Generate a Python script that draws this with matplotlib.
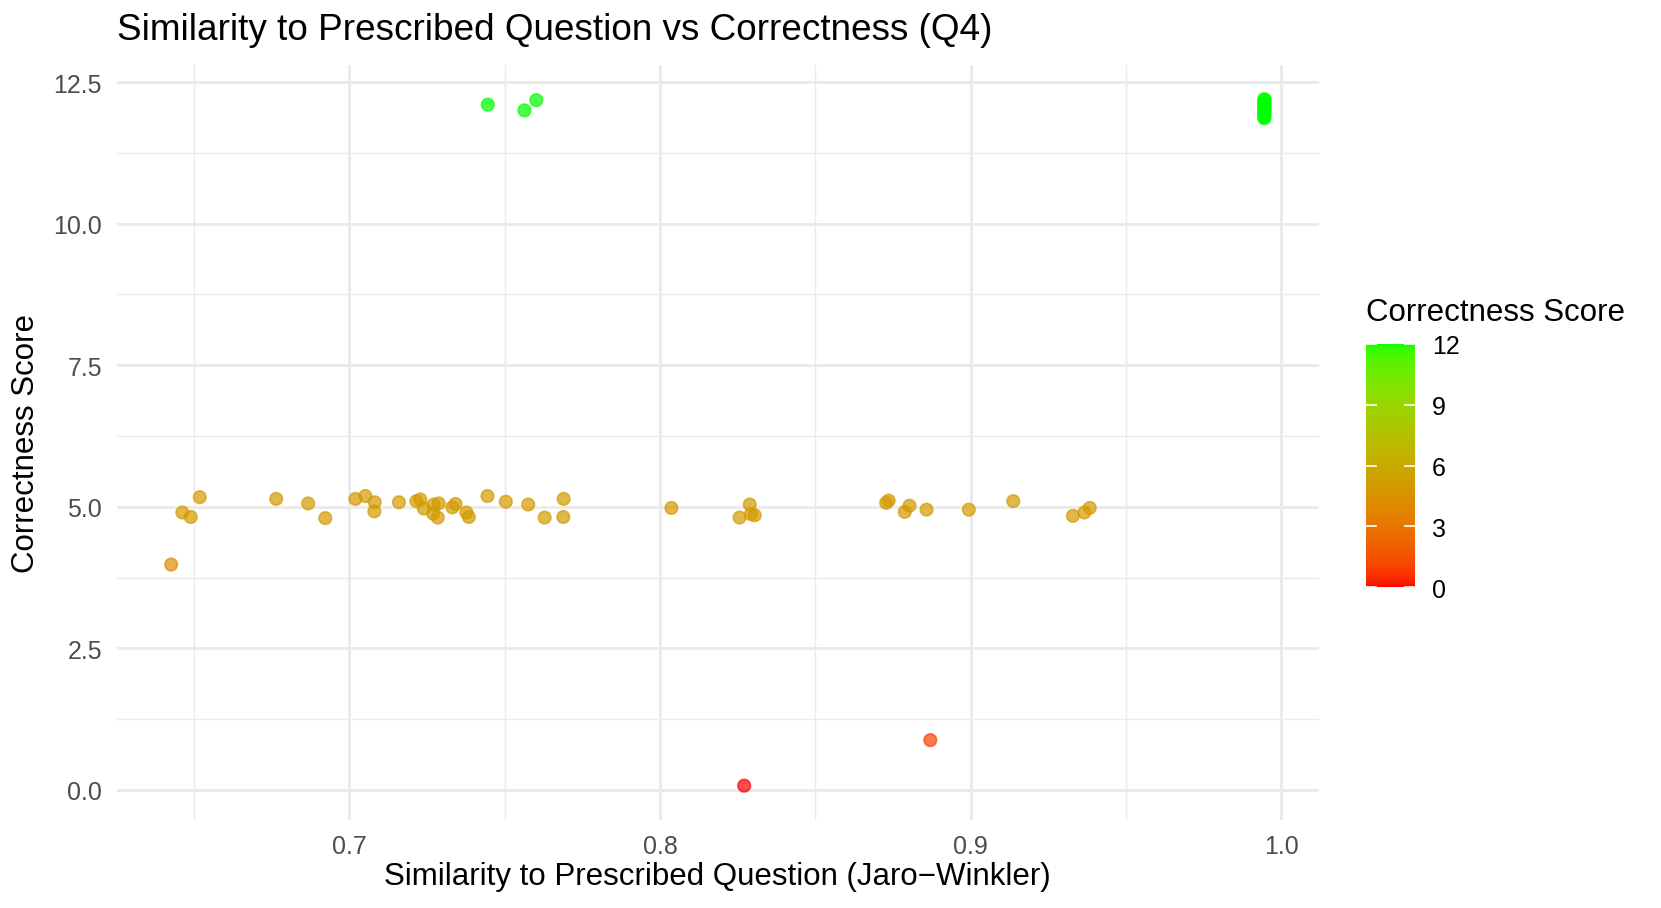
import numpy as np
import matplotlib
matplotlib.use("Agg")
import matplotlib.pyplot as plt

plt.rcParams['font.family'] = ['Liberation Sans', 'DejaVu Sans']

# ---- data ----
similarity = [0.6427, 0.6463, 0.6490, 0.6519, 0.6765, 0.6868, 0.6923, 0.7020, 0.7052,
              0.7082, 0.7081, 0.7160, 0.7216, 0.7229, 0.7240, 0.7272, 0.7288, 0.7270,
              0.7285, 0.7332, 0.7342, 0.7377, 0.7385, 0.7445, 0.7504, 0.7576, 0.7629,
              0.7690, 0.7689,
              0.8037, 0.8289, 0.8256, 0.8293, 0.8305, 0.8728, 0.8736, 0.8803, 0.8788,
              0.8858, 0.8994, 0.9137, 0.9329, 0.9366, 0.9383,
              0.7446, 0.7602, 0.7564,
              0.8870, 0.8271,
              0.9945, 0.9945, 0.9945, 0.9945, 0.9945, 0.9945, 0.9945, 0.9945,
              0.9945, 0.9945, 0.9945, 0.9945, 0.9945, 0.9945, 0.9945]
# jittered y position shown
score_shown = [3.98, 4.90, 4.82, 5.17, 5.14, 5.06, 4.80, 5.14, 5.19,
               5.08, 4.92, 5.08, 5.10, 5.13, 4.97, 5.04, 5.06, 4.88,
               4.81, 4.99, 5.05, 4.90, 4.82, 5.19, 5.09, 5.04, 4.81,
               5.14, 4.82,
               4.98, 5.04, 4.81, 4.87, 4.85, 5.07, 5.11, 5.02, 4.91,
               4.95, 4.95, 5.10, 4.84, 4.90, 4.98,
               12.10, 12.18, 12.00,
               0.88, 0.076,
               11.86, 11.88, 11.90, 11.93, 11.95, 11.97, 12.00, 12.02,
               12.05, 12.08, 12.10, 12.12, 12.15, 12.18, 12.20]
# actual score (used for colour)
score = [4, 5, 5, 5, 5, 5, 5, 5, 5,
         5, 5, 5, 5, 5, 5, 5, 5, 5,
         5, 5, 5, 5, 5, 5, 5, 5, 5,
         5, 5,
         5, 5, 5, 5, 5, 5, 5, 5, 5,
         5, 5, 5, 5, 5, 5,
         12, 12, 12,
         1, 0,
         12, 12, 12, 12, 12, 12, 12, 12,
         12, 12, 12, 12, 12, 12, 12]

x_ticks = [0.7, 0.8, 0.9, 1.0]
x_minor = [0.65, 0.75, 0.85, 0.95]
y_ticks = [0.0, 2.5, 5.0, 7.5, 10.0, 12.5]
y_minor = [1.25, 3.75, 6.25, 8.75, 11.25]
cbar_ticks = [0, 3, 6, 9, 12]
cmin, cmax = 0, 12

# ---- Lab colour interpolation (red -> green) ----
M = np.array([[0.4124564, 0.3575761, 0.1804375],
              [0.2126729, 0.7151522, 0.0721750],
              [0.0193339, 0.1191920, 0.9503041]])
WHITE = np.array([0.95047, 1.0, 1.08883])
d = 6 / 29

def rgb_to_lab(rgb):
    c = np.asarray(rgb, float)
    lin = np.where(c <= 0.04045, c / 12.92, ((c + 0.055) / 1.055) ** 2.4)
    xyz = M @ lin / WHITE
    f = np.where(xyz > d ** 3, np.cbrt(xyz), xyz / (3 * d * d) + 4 / 29)
    return np.array([116 * f[1] - 16, 500 * (f[0] - f[1]), 200 * (f[1] - f[2])])

def lab_to_rgb(lab):
    L, a, b = lab
    fy = (L + 16) / 116
    f = np.array([fy + a / 500, fy, fy - b / 200])
    xyz = np.where(f > d, f ** 3, 3 * d * d * (f - 4 / 29)) * WHITE
    lin = np.linalg.solve(M, xyz)
    lin = np.clip(lin, 0, 1)
    c = np.where(lin <= 0.0031308, 12.92 * lin, 1.055 * lin ** (1 / 2.4) - 0.055)
    return np.clip(c, 0, 1)

LAB_LO = rgb_to_lab([1, 0, 0])
LAB_HI = rgb_to_lab([0, 1, 0])

def score_colour(v):
    t = (v - cmin) / (cmax - cmin)
    return lab_to_rgb(LAB_LO + t * (LAB_HI - LAB_LO))

# ---- figure ----
W, H, DPI = 1661, 909, 150
fig = plt.figure(figsize=(W / DPI, H / DPI), dpi=DPI)
fig.patch.set_facecolor('white')

ax = fig.add_axes([116.5 / W, 1 - 821 / H, (1319 - 116.5) / W, (821 - 65.7) / H])
for s in ax.spines.values():
    s.set_visible(False)

grid_c = '#EBEBEB'
for xv in x_minor:
    ax.axvline(xv, color=grid_c, lw=0.71, zorder=0)
for yv in y_minor:
    ax.axhline(yv, color=grid_c, lw=0.71, zorder=0)
for xv in x_ticks:
    ax.axvline(xv, color=grid_c, lw=1.42, zorder=0)
for yv in y_ticks:
    ax.axhline(yv, color=grid_c, lw=1.42, zorder=0)

cols = [score_colour(v) for v in score]
ax.scatter(similarity, score_shown, s=36, c=cols, alpha=0.7, edgecolors=cols,
           linewidths=0.8, zorder=3)

xr = max(similarity) - min(similarity)
yr = max(score_shown) - min(score_shown)
ax.set_xlim(min(similarity) - 0.05 * xr, max(similarity) + 0.05 * xr)
ax.set_ylim(min(score_shown) - 0.05 * yr, max(score_shown) + 0.05 * yr)
ax.set_xticks(x_ticks)
ax.set_xticklabels(['0.7', '0.8', '0.9', '1.0'])
ax.set_yticks(y_ticks)
ax.set_yticklabels(['0.0', '2.5', '5.0', '7.5', '10.0', '12.5'])
ax.tick_params(axis='x', length=0, labelsize=12, labelcolor='#4D4D4D', pad=6.5)
ax.tick_params(axis='y', length=0, labelsize=12, labelcolor='#4D4D4D', pad=7)

ax.set_xlabel('Similarity to Prescribed Question (Jaro\u2212Winkler)', fontsize=15, va='center')
ax.set_ylabel('Correctness Score', fontsize=15, va='center')
ax.xaxis.set_label_coords(0.5, (821 - 877) / (821 - 65.7))
ax.yaxis.set_label_coords((26.5 - 116.5) / (1319 - 116.5), 0.5)
fig.text(116.5 / W, 1 - 30 / H, 'Similarity to Prescribed Question vs Correctness (Q4)',
         fontsize=17.7, ha='left', va='center')

# ---- colour bar ----
cax = fig.add_axes([1366 / W, 1 - 588.3 / H, 49 / W, (588.3 - 345) / H])
vals = np.linspace(cmin, cmax, 300)
grad = np.array([score_colour(v) for v in vals])[:, None, :]
cax.imshow(grad, aspect='auto', origin='lower', extent=[0, 1, cmin, cmax])
cax.set_xlim(0, 1)
cax.set_ylim(cmin, cmax)
for t in cbar_ticks:
    cax.plot([0, 0.2], [t, t], color='white', lw=0.8)
    cax.plot([0.8, 1], [t, t], color='white', lw=0.8)
cax.set_xticks([])
cax.set_yticks(cbar_ticks)
cax.yaxis.tick_right()
cax.tick_params(length=0, labelsize=12, pad=8, labelcolor='black')
for s in cax.spines.values():
    s.set_visible(False)
fig.text(1366 / W, 1 - 313 / H, 'Correctness Score', fontsize=15, ha='left', va='center')

fig.savefig('out.png', dpi=DPI)
